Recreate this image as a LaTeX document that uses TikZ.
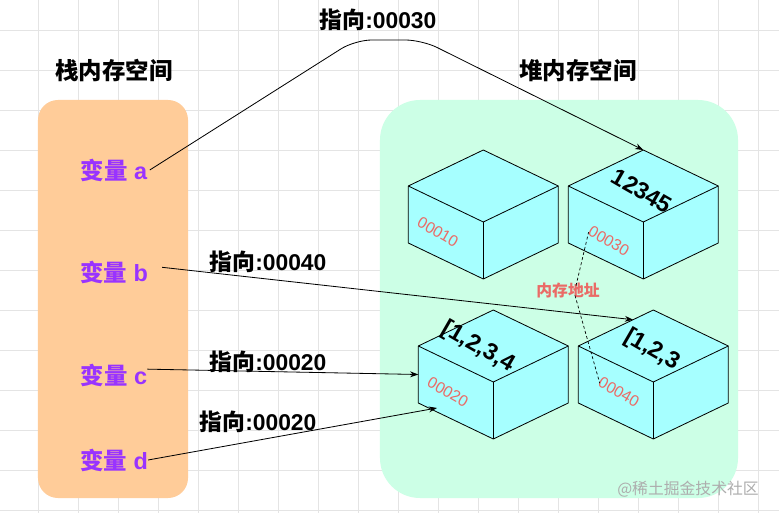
\documentclass[tikz,border=0pt]{standalone}
\usepackage{fontspec}
\setmainfont{Liberation Sans}
\newfontfamily\cjk{Noto Sans CJK SC}
\usetikzlibrary{arrows.meta,calc}

\definecolor{stackfill}{HTML}{FFCC99}
\definecolor{heapfill}{HTML}{CCFFE6}
\definecolor{cubefill}{HTML}{A6FFFF}
\definecolor{varpurple}{HTML}{9933FF}
\definecolor{addrred}{HTML}{EA6B66}
\definecolor{gridgray}{HTML}{E4E4E4}

\begin{document}
\begin{tikzpicture}[x=0.03cm,y=-0.03cm,
  gridline/.style={draw=gridgray,line width=0.6pt},
  area/.style={draw=none,rounded corners=#1,inner sep=0pt},
  cube/.style={draw=black,fill=cubefill,line width=0.7pt,line join=round},
  ttl/.style={font=\cjk\bfseries\fontsize{20}{24}\selectfont,inner sep=0pt},
  var/.style={font=\bfseries\fontsize{20}{24}\selectfont,text=varpurple,inner sep=0pt},
  ptr/.style={font=\bfseries\fontsize{19.5}{24}\selectfont,inner sep=0pt},
  val/.style={font=\bfseries\fontsize{20}{24}\selectfont,rotate=-30,inner sep=0pt},
  addr/.style={font=\fontsize{13.5}{16}\selectfont,text=addrred,rotate=-30,inner sep=0pt},
  ptrline/.style={draw=black,line width=0.7pt,-{Stealth[length=7pt,width=5pt]}},
  addrlink/.style={draw=black,line width=0.6pt,dash pattern=on 2.5pt off 2pt}]

\useasboundingbox (0,0) rectangle (779,513);
\fill[white] (0,0) rectangle (779,513);

% ---------- grid ----------
\foreach \gx in {38.3,78.3,...,778.3}
  \draw[gridline] (\gx,0) -- (\gx,513);
\foreach \gy in {30,70,...,510}
  \draw[gridline] (0,\gy) -- (779,\gy);

% ---------- stack ----------
\node[area=0.6cm,fill=stackfill,minimum width=4.5cm,minimum height=11.94cm] (stack) at (113,299) {};
\node[ttl] (stackttl) at (114,70) {栈内存空间};
\node[var] (va) at (114,170) {{\cjk 变量} a};
\node[var] (vb) at (114,272) {{\cjk 变量} b};
\node[var] (vc) at (114,375) {{\cjk 变量} c};
\node[var] (vd) at (114,460) {{\cjk 变量} d};

% ---------- heap ----------
\node[area=1.2cm,fill=heapfill,minimum width=10.74cm,minimum height=11.94cm] (heap) at (559,299) {};
\node[ttl] (heapttl) at (578,70) {堆内存空间};

\foreach \n/\tx/\ty in {1/483.3/150, 2/643.3/150, 3/493.3/310, 4/653.3/310} {
  \filldraw[cube] (\tx,\ty) -- ++(75,36) -- ++(0,57) -- ++(-75,36) -- ++(-75,-36) -- ++(0,-57) -- cycle;
  \draw[cube,fill=none] (\tx-75,\ty+36) -- ++(75,36) -- ++(75,-36);
  \draw[cube,fill=none] (\tx,\ty+72) -- ++(0,57);
  \coordinate (T\n) at (\tx,\ty);
  \coordinate (L\n) at (\tx-75,\ty+36);
  \coordinate (BL\n) at (\tx-75,\ty+93);
  \coordinate (BF\n) at (\tx,\ty+129);
}

\node[val] (v2) at (642,191) {12345};
\node[val] (v3) at (478,347) {[1,2,3,4};
\node[val] (v4) at (652,350) {[1,2,3};
\node[addr] (a10) at (438,232) {00010};
\node[addr] (a30) at (609,241) {00030};
\node[addr] (a20) at (448,392) {00020};
\node[addr] (a40) at (619,392) {00040};

\node[font=\cjk\bfseries\fontsize{13.5}{16}\selectfont,text=addrred,inner sep=0pt] (addrlbl) at (568,290) {内存地址};
\draw[addrlink] ([yshift=-3pt]addrlbl.north -| 576,0) -- ([shift={(-1pt,-2pt)}]a30.west);
\draw[addrlink] ([yshift=2pt]addrlbl.south -| 575,0) -- ([shift={(0pt,-2pt)}]a40.west);

% ---------- pointers ----------
\coordinate (ac1) at (355,40);
\coordinate (ac2) at (422,40);
\coordinate (bend) at ($(L4)!0.73!(T4)$);
\coordinate (cend) at ($(L3)!0.5!(BL3)$);
\coordinate (dend) at (437,408);

\draw[ptrline,rounded corners=0.5cm] ([xshift=2pt]va.east) -- (ac1) -- (ac2) -- (T2);
\draw[ptrline] ([shift={(12pt,4pt)}]vb.east) -- (bend);
\draw[ptrline] ([shift={(0pt,5pt)}]vc.east) -- (cend);
\draw[ptrline] (vd.east) -- (dend);

\node[ptr] (pa) at (378,20) {{\cjk 指向}:00030};
\node[ptr] (pb) at (268,262) {{\cjk 指向}:00040};
\node[ptr] (pc) at (268,362) {{\cjk 指向}:00020};
\node[ptr] (pd) at (258,422) {{\cjk 指向}:00020};

% watermark
\node[font=\cjk\fontsize{13.5}{16}\selectfont,text=black!32,inner sep=0pt] (mark) at (688,489) {@稀土掘金技术社区};
\end{tikzpicture}
\end{document}
